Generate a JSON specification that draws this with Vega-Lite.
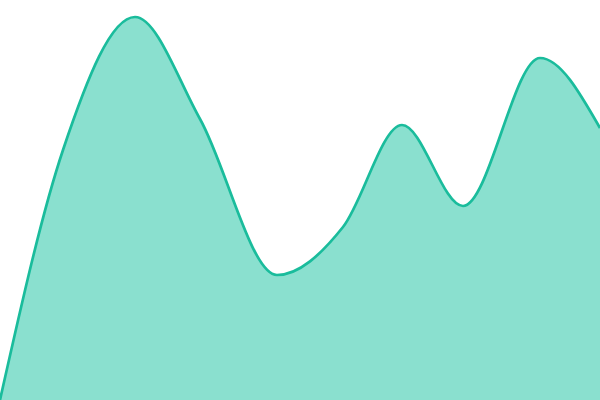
{
  "$schema": "https://vega.github.io/schema/vega-lite/v6.json",
  "description": "Smooth filled area chart with no axes.",
  "width": 600,
  "height": 400,
  "autosize": "none",
  "padding": 0,
  "data": {
    "values": [
      {"x": 0, "value": 0},
      {"x": 63, "value": 250},
      {"x": 135, "value": 383},
      {"x": 200, "value": 281},
      {"x": 277, "value": 125},
      {"x": 343, "value": 173},
      {"x": 402, "value": 275},
      {"x": 463, "value": 194},
      {"x": 540, "value": 342},
      {"x": 600, "value": 272}
    ]
  },
  "mark": {
    "type": "area",
    "interpolate": "monotone",
    "color": "#8AE0CF",
    "opacity": 1,
    "line": {"color": "#1ABC9C", "strokeWidth": 2.7}
  },
  "encoding": {
    "x": {
      "field": "x",
      "type": "quantitative",
      "axis": null,
      "scale": {"domain": [0, 600], "nice": false, "zero": false}
    },
    "y": {
      "field": "value",
      "type": "quantitative",
      "axis": null,
      "scale": {"domain": [0, 400], "nice": false}
    }
  },
  "config": {
    "view": {"stroke": "transparent"}
  }
}
